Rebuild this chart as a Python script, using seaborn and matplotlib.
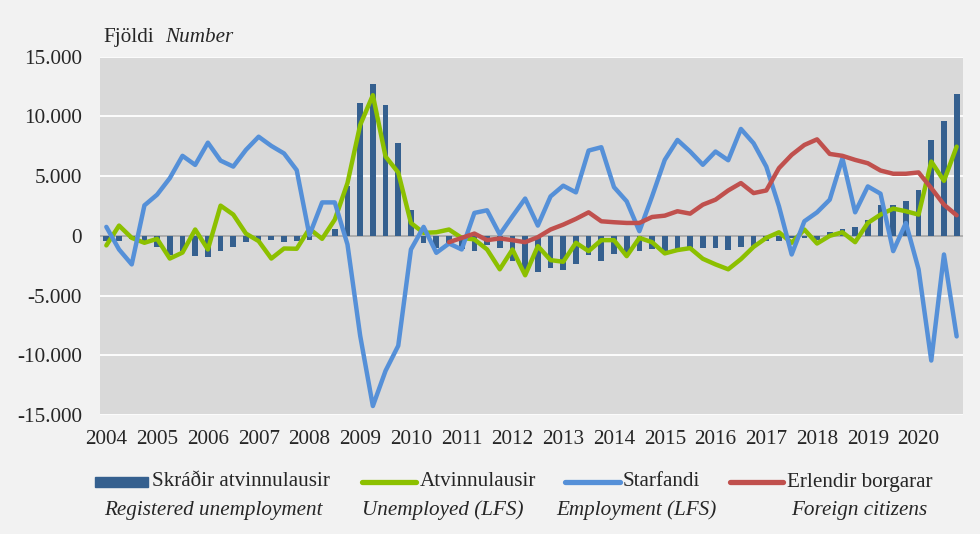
import numpy as np
import pandas as pd
import matplotlib
matplotlib.use("Agg")
import matplotlib.pyplot as plt
import seaborn as sns
from matplotlib.lines import Line2D
from matplotlib.patches import Rectangle

# ---------------- data (quarterly, 2004Q1 - 2020Q4) ----------------
years = [str(y) for y in range(2004, 2021)]

registered = [-470, -390, -300, -470, -970, -1580, -1300, -1720,
              -1800, -1300, -970, -530, -390, -330, -500, -470,
              -330, -100, 560, 4140, 11100, 12700, 10950, 7750,
              2140, -610, -1030, -600, -1110, -1300, -750, -1030,
              -2140, -2970, -3060, -2690, -2890, -2330, -1580, -2140,
              -1500, -1580, -1300, -1110, -1300, -1110, -1030, -1030,
              -1030, -1170, -940, -890, -450, -430, -200, -150,
              -320, 360, 560, 780, 1330, 2580, 2580, 2920,
              3860, 8030, 9640, 11860]

unemployed_lfs = [-800, 860, -170, -580, -250, -1900, -1400, 530,
                  -1140, 2530, 1780, 190, -440, -1900, -1060, -1080,
                  600, -250, 1360, 4420, 9280, 11780, 6640, 5300,
                  1080, 250, 300, 530, -170, -300, -1140, -2800,
                  -1140, -3300, -860, -2030, -2170, -580, -1280, -360,
                  -360, -1700, -170, -530, -1470, -1190, -1030, -1920,
                  -2390, -2800, -1950, -920, -170, 300, -580, 530,
                  -640, 0, 300, -530, 1080, 1780, 2280, 2060,
                  1780, 6220, 4610, 7470]

employment_lfs = [750, -1140, -2390, 2550, 3450, 4830, 6700, 5940,
                  7800, 6300, 5800, 7200, 8300, 7530, 6900, 5500,
                  50, 2800, 2800, -720, -8360, -14250, -11300, -9200,
                  -1140, 750, -1420, -640, -1140, 1920, 2140, 110,
                  1640, 3120, 860, 3300, 4200, 3640, 7140, 7420,
                  4080, 2890, 390, 3300, 6360, 8030, 7060, 5950,
                  7060, 6330, 8950, 7750, 5800, 2470, -1560, 1220,
                  1970, 3030, 6500, 1970, 4140, 3530, -1280, 1080,
                  -2800, -10440, -1560, -8420]

foreign = [np.nan] * 27 + [-530, -170, 190, -360, -220,
                           -360, -530, -110, 530, 940, 1420, 1970, 1220,
                           1140, 1080, 1080, 1580, 1690, 2060, 1860, 2610,
                           3030, 3800, 4420, 3580, 3800, 5670, 6780, 7610,
                           8080, 6860, 6700, 6360, 6080, 5470, 5200, 5200,
                           5310, 4000, 2610, 1720]

n = len(registered)
df = pd.DataFrame({
    "q": np.arange(n),
    "registered": registered,
    "unemployed": unemployed_lfs,
    "employment": employment_lfs,
    "foreign": foreign,
})

# ---------------- style ----------------
sns.set_theme(style="white")
plt.rcParams["font.family"] = ["Liberation Serif", "DejaVu Serif"]

C_BAR = "#35608F"
C_GREEN = "#8CC000"
C_BLUE = "#5590D8"
C_RED = "#C0504D"
BG = "#F2F2F2"
PLOT_BG = "#D9D9D9"
FS = 15.2

fig = plt.figure(figsize=(9.8, 5.34), dpi=100, facecolor=BG)
ax = fig.add_axes([100 / 980, 1 - 415 / 534, 863 / 980, (415 - 56.7) / 534])
ax.set_facecolor(PLOT_BG)

sns.barplot(data=df, x="q", y="registered", color=C_BAR, width=0.45,
            saturation=1, linewidth=0, edgecolor="none", ax=ax, zorder=3)
lw = 3.2
sns.lineplot(data=df, x="q", y="unemployed", color=C_GREEN, lw=lw, ax=ax,
             zorder=4, legend=False)
sns.lineplot(data=df, x="q", y="employment", color=C_BLUE, lw=lw, ax=ax,
             zorder=5, legend=False)
sns.lineplot(data=df.dropna(), x="q", y="foreign", color=C_RED, lw=lw, ax=ax,
             zorder=6, legend=False)

ax.set_xlim(-0.5, n - 0.5)
ax.set_ylim(-15000, 15000)
ax.set_yticks(np.arange(-15000, 15001, 5000))
ax.set_yticklabels([f"{v:,}".replace(",", ".") for v in range(-15000, 15001, 5000)],
                   fontsize=FS)
ax.set_xticks(np.arange(0, n, 4))
ax.set_xticklabels(years, fontsize=FS)
ax.tick_params(axis="x", length=0, pad=11)
ax.tick_params(axis="y", length=0, pad=13)
ax.set_xlabel("")
ax.set_ylabel("")
ax.grid(axis="y", color="white", lw=1.3, zorder=0)
ax.set_axisbelow(True)
ax.axhline(0, color="#A6A6A6", lw=1.3, zorder=2)
for s in ax.spines.values():
    s.set_visible(False)

# title-ish label
fig.text(103 / 980, 1 - 37 / 534, "Fjöldi", fontsize=FS, va="center", ha="left")
fig.text(165 / 980, 1 - 37 / 534, "Number", fontsize=FS, va="center", ha="left",
         style="italic")

# ---------------- legend (manual, two rows) ----------------
def fx(px):
    return px / 980

def fy(py):
    return 1 - py / 534

row1 = 482
row2 = 510
fig.add_artist(Rectangle((fx(95), fy(487)), fx(148) - fx(95), fy(477) - fy(487),
                         transform=fig.transFigure, color=C_BAR))
fig.text(fx(152), fy(row1), "Skráðir atvinnulausir", fontsize=FS, va="center")
for x0, x1, c, tx, label in [(362, 416, C_GREEN, 420, "Atvinnulausir"),
                             (565, 620, C_BLUE, 623, "Starfandi"),
                             (730, 783, C_RED, 787, "Erlendir borgarar")]:
    fig.add_artist(Line2D([fx(x0), fx(x1)], [fy(row1), fy(row1)],
                          transform=fig.transFigure, color=c, lw=3.8,
                          solid_capstyle="round"))
    fig.text(fx(tx), fy(row1), label, fontsize=FS, va="center")

for cx, label in [(213, "Registered unemployment"), (443, "Unemployed (LFS)"),
                  (636, "Employment (LFS)"), (859, "Foreign citizens")]:
    fig.text(fx(cx), fy(row2), label, fontsize=FS, va="center", ha="center",
             style="italic")

fig.savefig("out.png", dpi=100, facecolor=BG)
